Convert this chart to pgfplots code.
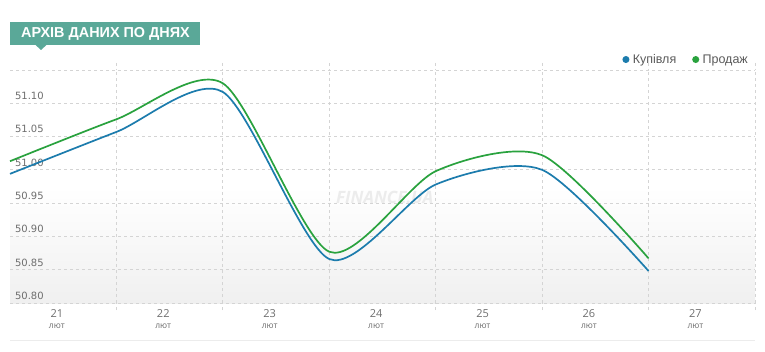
\documentclass[border=0pt]{standalone}
\usepackage{pgfplots}
\pgfplotsset{compat=1.18}
\usepackage{fontspec}
\setmainfont{Liberation Sans}
\newfontfamily\dejavu{DejaVu Sans}
\newfontfamily\opensans{Open Sans}
\definecolor{buyc}{RGB}{28,124,173}
\definecolor{sellc}{RGB}{41,162,62}
\definecolor{titlec}{RGB}{90,168,152}
\definecolor{gridc}{RGB}{212,212,212}
\definecolor{shadec}{RGB}{240,240,240}
\definecolor{labc}{RGB}{110,110,110}
\definecolor{legc}{RGB}{90,90,90}
\pgfdeclareverticalshading{bgshade}{100bp}{color(0bp)=(shadec); color(25bp)=(shadec); color(50bp)=(white); color(100bp)=(white)}
\begin{document}
\begin{tikzpicture}[x=1pt,y=1pt]
\useasboundingbox (0,0) rectangle (765,351);
% title box
\fill[titlec] (10,329) rectangle (200,306);
\fill[titlec] (35,306.5) -- (47,306.5) -- (41,301) -- cycle;
\node[text=white, font=\bfseries\fontsize{14.4}{15}\selectfont, inner sep=0pt] at (105.5,317.5) {АРХІВ ДАНИХ ПО ДНЯХ};
% bottom separator
\draw[gray!15, line width=0.8pt] (10,11) -- (755,11);
\begin{axis}[
  at={(10pt,48pt)}, anchor=south west, scale only axis,
  width=745pt, height=233pt,
  xmin=0, xmax=7, ymin=50.80, ymax=51.15,
  axis background/.style={shading=bgshade},
  axis line style={draw=none},
  xtick={1,2,3,4,5,6,7}, xticklabels={},
  ytick={50.80,50.85,50.90,50.95,51.00,51.05,51.10,51.15},
  yticklabels={50.80,50.85,50.90,50.95,51.00,51.05,51.10,{}},
  grid=major,
  major grid style={gridc, dash pattern=on 3pt off 3pt, line width=0.8pt},
  tick align=outside,
  major tick length=7pt,
  x tick style={gridc, dash pattern=on 3pt off 3pt, line width=0.8pt},
  y tick style={draw=none},
  yticklabel style={anchor=south west, xshift=8.5pt, yshift=0pt, font=\dejavu\fontsize{10}{12}\selectfont, text=labc},
  extra x ticks={0.44,1.44,2.44,3.44,4.44,5.44,6.44},
  extra x tick labels={{21\\[-1pt]{\fontsize{8.5}{9}\selectfont лют}},{22\\[-1pt]{\fontsize{8.5}{9}\selectfont лют}},{23\\[-1pt]{\fontsize{8.5}{9}\selectfont лют}},{24\\[-1pt]{\fontsize{8.5}{9}\selectfont лют}},{25\\[-1pt]{\fontsize{8.5}{9}\selectfont лют}},{26\\[-1pt]{\fontsize{8.5}{9}\selectfont лют}},{27\\[-1pt]{\fontsize{8.5}{9}\selectfont лют}}},
  extra x tick style={grid=none, major tick length=0pt, tick style={draw=none}},
  xticklabel style={align=center, font=\opensans\fontsize{11}{12}\selectfont, text=labc, yshift=-3pt},
  legend style={at={(1,1)}, anchor=south east, xshift=-2pt, yshift=1pt, draw=none, fill=none,
    font=\fontsize{12.5}{14}\selectfont, text=legc, legend columns=2,
    /tikz/every even column/.append style={column sep=14pt}},
  legend image code/.code={\fill[#1] (0pt,0pt) circle (2.6pt); \path (4pt,0pt);},
  clip=false,
]
\node[font=\opensans\bfseries\itshape\fontsize{17}{17}\selectfont, text=gray!15] at (rel axis cs:0.503,0.455) {FINANCE.UA};
\addplot[buyc, line width=1.7pt, smooth, tension=0.45] coordinates {
 (0,50.994) (1,51.057) (2,51.117) (3,50.866) (4,50.978) (5,51.000) (6,50.848)};
\addlegendentry{Купівля}
\addplot[sellc, line width=1.7pt, smooth, tension=0.45] coordinates {
 (0,51.013) (1,51.076) (2,51.130) (3,50.877) (4,50.998) (5,51.022) (6,50.867)};
\addlegendentry{Продаж}
\end{axis}
\end{tikzpicture}
\end{document}
